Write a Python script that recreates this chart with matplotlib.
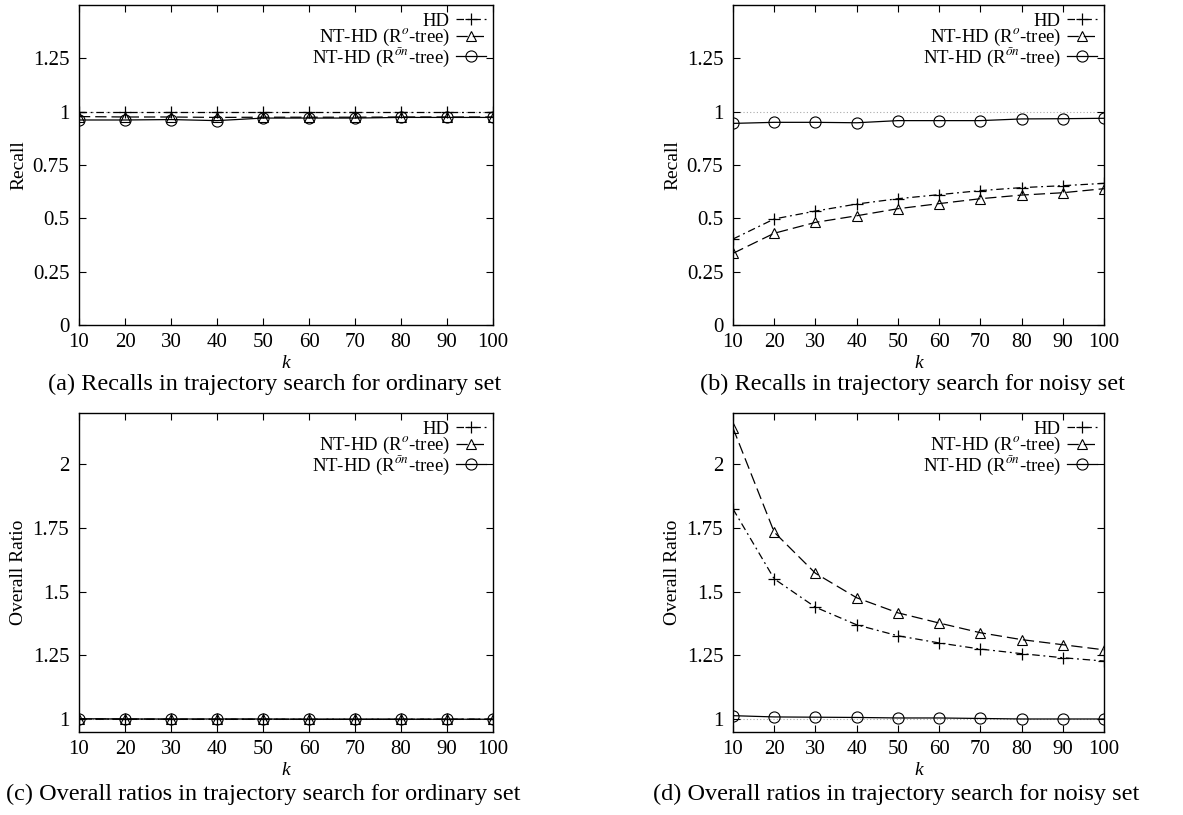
import matplotlib
matplotlib.use("Agg")
import matplotlib.pyplot as plt

plt.rcParams['font.family'] = ['Liberation Serif', 'DejaVu Serif']
plt.rcParams['mathtext.fontset'] = 'stix'

k = [10, 20, 30, 40, 50, 60, 70, 80, 90, 100]

# (a) recall, ordinary set
recall_ord_hd = [0.998, 0.998, 0.998, 0.998, 0.998, 0.998, 0.998, 0.998, 0.998, 0.998]
recall_ord_ro = [0.977, 0.975, 0.975, 0.973, 0.974, 0.974, 0.974, 0.975, 0.975, 0.975]
recall_ord_ron = [0.961, 0.961, 0.963, 0.958, 0.970, 0.970, 0.970, 0.973, 0.973, 0.973]

# (b) recall, noisy set
recall_noi_hd = [0.403, 0.497, 0.534, 0.567, 0.592, 0.611, 0.630, 0.644, 0.653, 0.664]
recall_noi_ro = [0.336, 0.430, 0.481, 0.512, 0.545, 0.569, 0.592, 0.609, 0.620, 0.639]
recall_noi_ron = [0.945, 0.950, 0.950, 0.948, 0.958, 0.958, 0.958, 0.966, 0.967, 0.969]

# (c) overall ratio, ordinary set
ratio_ord_hd = [1.001, 1.000, 1.000, 1.000, 1.000, 1.000, 1.000, 1.000, 1.000, 1.000]
ratio_ord_ro = [1.001, 1.001, 1.000, 1.000, 1.000, 1.000, 1.000, 1.000, 1.000, 1.000]
ratio_ord_ron = [1.002, 1.001, 1.001, 1.001, 1.001, 1.000, 1.000, 1.000, 1.000, 1.000]

# (d) overall ratio, noisy set
ratio_noi_hd = [1.824, 1.550, 1.439, 1.370, 1.327, 1.299, 1.275, 1.257, 1.241, 1.228]
ratio_noi_ro = [2.141, 1.733, 1.572, 1.476, 1.417, 1.377, 1.339, 1.312, 1.292, 1.272]
ratio_noi_ron = [1.014, 1.009, 1.008, 1.007, 1.005, 1.005, 1.003, 1.001, 1.001, 1.001]

labels = ["HD", r"NT-HD (R$^{o}$-tree)", "NT-HD (R$^{ōn}$-tree)"]

recall_ticks = [0, 0.25, 0.5, 0.75, 1, 1.25]
recall_ticklabels = ["0", "0.25", "0.5", "0.75", "1", "1.25"]
ratio_ticks = [1, 1.25, 1.5, 1.75, 2]
ratio_ticklabels = ["1", "1.25", "1.5", "1.75", "2"]

captions = [
    "(a) Recalls in trajectory search for ordinary set",
    "(b) Recalls in trajectory search for noisy set",
    "(c) Overall ratios in trajectory search for ordinary set",
    "(d) Overall ratios in trajectory search for noisy set",
]

W, H = 1183, 815
fig = plt.figure(figsize=(W / 100, H / 100), dpi=100)

# pixel boxes (left, top, right, bottom)
boxes = [(79, 5, 493, 325), (733, 5, 1104, 325),
         (79, 413, 493, 732), (733, 413, 1104, 732)]
caption_y = [384, 384, 794, 794]
caption_x = [275, 912, 263, 896]

panels = [
    (recall_ord_hd, recall_ord_ro, recall_ord_ron, "Recall", (0, 1.5), recall_ticks, recall_ticklabels),
    (recall_noi_hd, recall_noi_ro, recall_noi_ron, "Recall", (0, 1.5), recall_ticks, recall_ticklabels),
    (ratio_ord_hd, ratio_ord_ro, ratio_ord_ron, "Overall Ratio", (0.95, 2.2), ratio_ticks, ratio_ticklabels),
    (ratio_noi_hd, ratio_noi_ro, ratio_noi_ron, "Overall Ratio", (0.95, 2.2), ratio_ticks, ratio_ticklabels),
]

for i, (hd, ro, ron, ylab, ylim, yt, ytl) in enumerate(panels):
    l, t, r, b = boxes[i]
    ax = fig.add_axes([l / W, 1 - b / H, (r - l) / W, (b - t) / H])
    ax.axhline(1, color='#aaaaaa', ls=(0, (1, 2)), lw=0.8, zorder=1)
    ax.plot(k, hd, color='black', lw=0.9, ls=(0, (6, 3, 1.5, 3)), marker='+',
            ms=8, mew=0.9, label=labels[0], zorder=3)
    ax.plot(k, ro, color='black', lw=0.9, ls=(0, (9, 4)), marker='^',
            ms=7, mfc='none', mew=0.8, label=labels[1], zorder=3)
    ax.plot(k, ron, color='black', lw=0.9, ls='-', marker='o',
            ms=8, mfc='none', mew=0.8, label=labels[2], zorder=3)
    ax.set_xlim(10, 100)
    ax.set_ylim(*ylim)
    ax.set_xticks(k)
    ax.set_yticks(yt)
    ax.set_yticklabels(ytl)
    ax.tick_params(direction='in', top=True, right=True, length=5, width=0.8,
                   labelsize=15)
    ax.tick_params(axis='y', pad=7)
    ax.tick_params(axis='x', pad=6)
    for s in ax.spines.values():
        s.set_linewidth(1.0)
    ax.set_ylabel(ylab, fontsize=14, labelpad=4)
    ax.set_xlabel("k", fontsize=14, style='italic', labelpad=2)
    ax.legend(loc='upper right', frameon=False, markerfirst=False,
              fontsize=13.5, handlelength=1.6, handletextpad=0.3,
              labelspacing=-0.12, borderaxespad=0.2, borderpad=0.2)
    fig.text(caption_x[i] / W, 1 - caption_y[i] / H, captions[i],
             ha='center', va='center', fontsize=17.5)

fig.savefig("out.png", dpi=100)
